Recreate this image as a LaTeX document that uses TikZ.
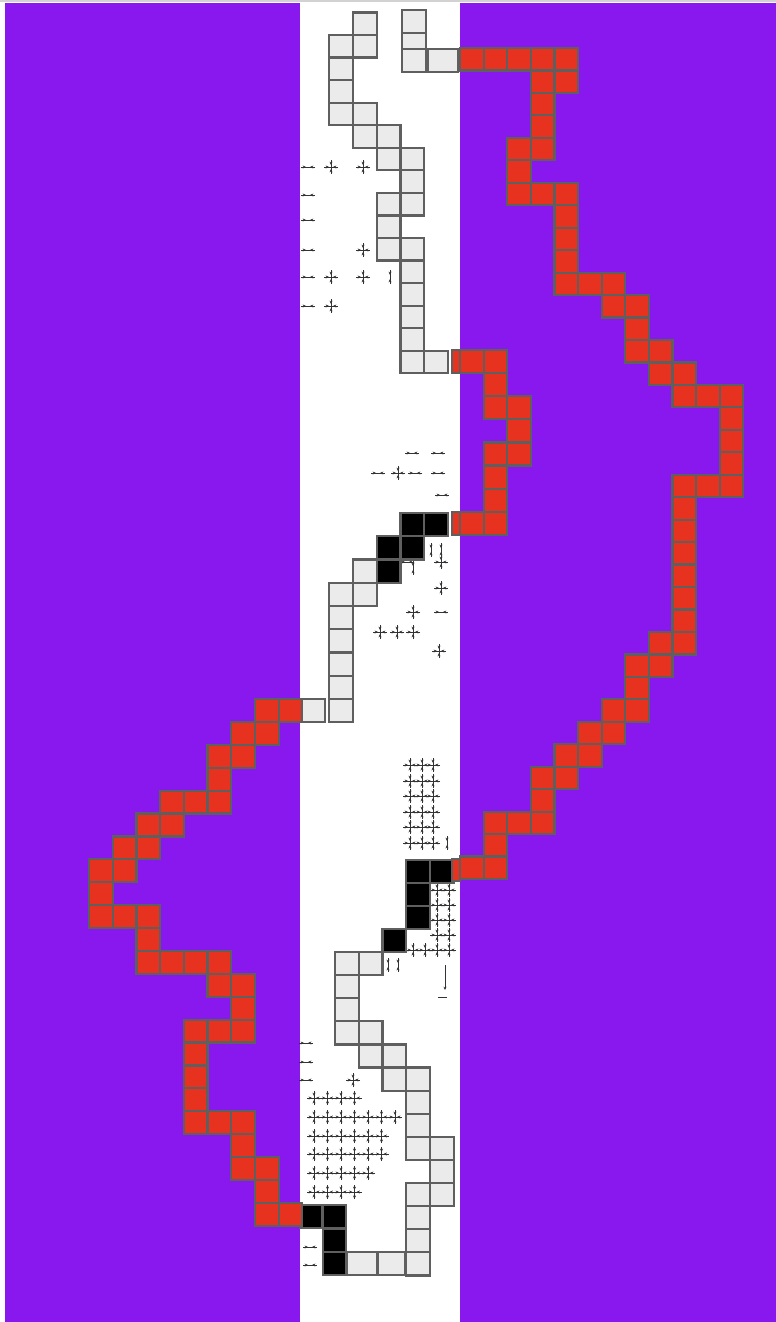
\documentclass[tikz,border=0pt]{standalone}
\usepackage{tikz}
\usetikzlibrary{arrows.meta}

\definecolor{fieldpurple}{RGB}{137,24,238}
\definecolor{cellred}{RGB}{232,50,32}
\definecolor{cellgray}{RGB}{235,235,235}
\definecolor{cellrim}{RGB}{95,95,95}

\tikzset{
  cell/.style={draw=cellrim, line width=2.2pt},
  redcell/.style={cell, fill=cellred},
  graycell/.style={cell, fill=cellgray},
  blackcell/.style={cell, fill=black},
  fieldbase/.style={line width=0.6pt, black!80},
  fieldline/.style={fieldbase, -{Stealth[length=3.4pt,width=3pt]}},
  pics/fieldcross/.style={code={
    \draw[fieldbase] (-7,0) -- (7,0) (0,-7) -- (0,7);
    \draw[fieldline] (-7,0) -- (-2,0); \draw[fieldline] (7,0) -- (2,0);
    \draw[fieldline] (0,-7) -- (0,-2); \draw[fieldline] (0,7) -- (0,2);}},
  pics/fieldpair/.style={code={
    \draw[fieldbase] (-7,0) -- (7,0);
    \draw[fieldline] (-7,0) -- (-2,0); \draw[fieldline] (7,0) -- (2,0);}},
  pics/fieldstem/.style={code={
    \draw[fieldbase] (0,-7) -- (0,7);
    \draw[fieldline] (0,-7) -- (0,-2); \draw[fieldline] (0,7) -- (0,2);}}
}

\begin{document}
\begin{tikzpicture}[x=1pt, y=-1pt]
  \useasboundingbox (0,0) rectangle (776,1322);
  \fill[white] (0,0) rectangle (776,1322);
  \fill[fieldpurple] (5,3) rectangle (300,1322);
  \fill[fieldpurple] (460,3) rectangle (776,1322);
  \fill[gray!35] (0,0) rectangle (776,2.5);

  % field marks in the white strip
  \foreach \fx/\fy in {331/167,363/167,363/250,331/277,363/277,331/306,
      398/473,441/562,441/588,413/612,380/632,397/632,413/632,439/651,353/1080}
    \pic at (\fx,\fy) {fieldcross};
  \foreach \fx/\fy in {308/167,308/195,308/220,308/250,308/277,308/306,
      412/453,438/453,378/473,415/473,438/473,442/495,407/562,441/612,
      306/1043,306/1062,306/1080,310/1247,310/1265}
    \pic at (\fx,\fy) {fieldpair};
  \foreach \fx/\fy in {390/277,431/550,441/550,413/568,447/843,388/965,398/965}
    \pic at (\fx,\fy) {fieldstem};
  % dense patches
  \foreach \fy in {765,781,796,812,827,843}
    \foreach \fx in {410,422,433}
      \pic at (\fx,\fy) {fieldcross};
  \foreach \fy in {890,905,920,935}
    \foreach \fx in {437,449}
      \pic at (\fx,\fy) {fieldcross};
  \foreach \fx in {413,425,437,449}
    \pic at (\fx,950) {fieldcross};
  \draw[fieldline] (445,965) -- (445,990);
  \draw[fieldbase] (438,997) -- (447,997);
  \foreach \fy/\kmax in {1098/3,1117/6,1136/5,1154/5,1173/4,1192/3}
    \foreach \k in {0,...,\kmax}
      \pic at ({314+13.5*\k},\fy) {fieldcross};

  % gray track, top
  \foreach \c/\r in {1/-1, 0/0,1/0, 0/1, 0/2, 0/3,1/3, 1/4,2/4, 2/5,3/5, 3/6,
      2/7,3/7, 2/8, 2/9,3/9, 3/10, 3/11, 3/12, 3/13, 3/14,4/14}
    \draw[graycell] ({329+23.8*\c},{35+22.55*\r}) rectangle ++(23.8,22.55);
  \foreach \xa/\ya/\xb/\yb in {402/10/426/33, 402/33/426/49, 402/49/426/72, 428/49/458/72}
    \draw[graycell] (\xa,\ya) rectangle (\xb,\yb);

  % gray and black track, middle
  \foreach \c/\r in {1/2, 0/3,1/3, 0/4, 0/5, 0/6, 0/7, 0/8}
    \draw[graycell] ({329+23.8*\c},{513+23.25*\r}) rectangle ++(23.8,23.25);
  \draw[graycell] (302,699) rectangle (325,722);
  \foreach \c/\r in {3/0,4/0, 2/1,3/1, 2/2}
    \draw[blackcell] ({329+23.8*\c},{513+23.25*\r}) rectangle ++(23.8,23.25);

  % gray and black track, bottom
  \foreach \c/\r in {0/0,1/0, 0/1, 0/2, 0/3,1/3, 1/4,2/4, 2/5,3/5, 3/6, 3/7,
      3/8,4/8, 4/9, 3/10,4/10, 3/11, 3/12, 3/13}
    \draw[graycell] ({335+23.75*\c},{952+23.1*\r}) rectangle ++(23.75,23.1);
  \foreach \xa/\ya/\xb/\yb in {347/1252/377/1275, 378/1252/405/1275}
    \draw[graycell] (\xa,\ya) rectangle (\xb,\yb);
  \foreach \c/\r in {3/-4,4/-4, 3/-3, 3/-2, 2/-1}
    \draw[blackcell] ({335+23.75*\c},{952+23.1*\r}) rectangle ++(23.75,23.1);
  \foreach \xa/\ya/\xb/\yb in {300/1205/322/1228, 323/1205/346/1228,
      323/1229/346/1252, 323/1252/346/1275}
    \draw[blackcell] (\xa,\ya) rectangle (\xb,\yb);

  % red loop, right
  \foreach \c/\r in {0/0,1/0,2/0,3/0,4/0, 3/1,4/1, 3/2, 3/3, 2/4,3/4, 2/5,
      2/6,3/6,4/6, 4/7, 4/8, 4/9, 4/10,5/10,6/10, 6/11,7/11, 7/12, 7/13,8/13,
      8/14,9/14, 9/15,10/15,11/15, 11/16, 11/17, 11/18, 9/19,10/19,11/19,
      9/20, 9/21, 9/22, 9/23, 9/24, 9/25, 8/26,9/26, 7/27,8/27, 7/28,
      6/29,7/29, 5/30,6/30, 4/31,5/31, 3/32,4/32, 3/33, 1/34,2/34,3/34,
      1/35, 0/36,1/36}
    \draw[redcell] ({460+23.6*\c},{48+22.46*\r}) rectangle ++(23.6,22.46);

  % red hook, right
  \foreach \c/\r in {0/0,1/0, 1/1, 1/2,2/2, 2/3, 1/4,2/4, 1/5, 1/6, 0/7,1/7}
    \draw[redcell] ({460+23.6*\c},{350+23.1*\r}) rectangle ++(23.6,23.1);

  % red loop, left
  \foreach \c/\r in {7/0,8/0, 6/1,7/1, 5/2,6/2, 5/3, 3/4,4/4,5/4, 2/5,3/5,
      1/6,2/6, 0/7,1/7, 0/8, 0/9,1/9,2/9, 2/10, 2/11,3/11,4/11,5/11,
      5/12,6/12, 6/13, 4/14,5/14,6/14, 4/15, 4/16, 4/17, 4/18,5/18,6/18,
      6/19, 6/20,7/20, 7/21, 7/22,8/22}
    \draw[redcell] ({89+23.7*\c},{699+22.9*\r}) rectangle ++(23.7,22.9);

  % red slivers at the strip edge
  \foreach \ya/\yb in {350/373, 512/535, 859/881}
    \draw[redcell] (452,\ya) rectangle (460,\yb);
\end{tikzpicture}
\end{document}
